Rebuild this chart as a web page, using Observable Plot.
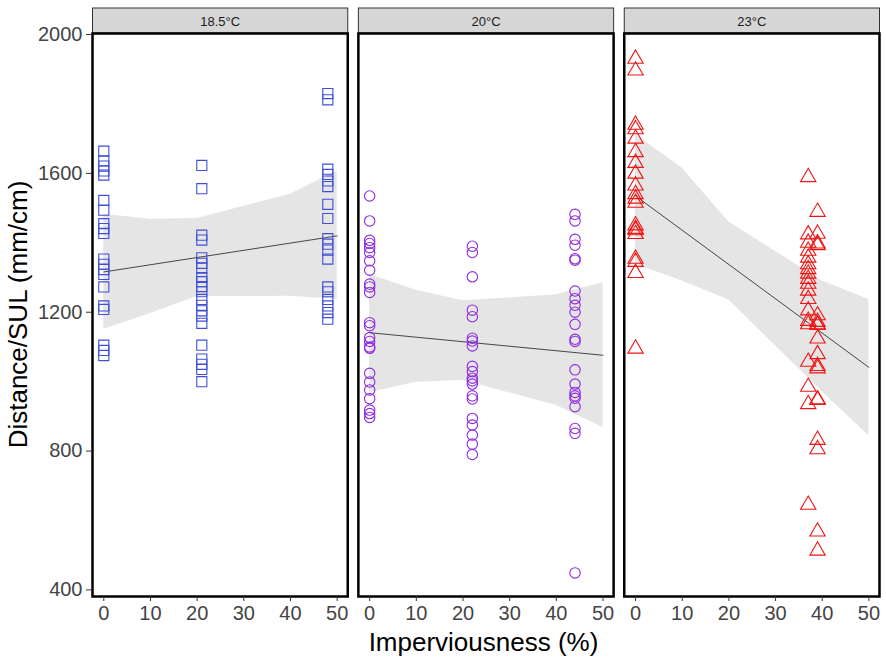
<!DOCTYPE html>
<html><head><meta charset="utf-8">
<script src="https://cdn.jsdelivr.net/npm/d3@7"></script>
<script src="https://cdn.jsdelivr.net/npm/@observablehq/plot@0.6"></script>
<style>
body{margin:0;background:#fff;}
#chart{width:886px;height:662px;}
</style></head><body><div id="chart"></div>
<script>
// ---- categories / styling lists ----
const panels = ["18.5°C", "20°C", "23°C"];
const colors = ["#3F4FD6", "#8E2BE0", "#F01414"];
const symbols = ["square", "circle", "triangle"];
const xTicks = [0, 10, 20, 30, 40, 50];
const yTicks = [400, 800, 1200, 1600, 2000];

// ---- observations read from the picture: imperviousness groups and Distance/SUL ----
// 18.5°C
const p1X = [0, 21, 48];
const p1Y0 = [1664, 1636, 1621, 1607, 1595, 1522, 1494, 1455, 1441, 1427, 1353, 1338, 1323, 1309, 1273, 1218, 1208, 1105, 1090, 1075];
const p1Y21 = [1623, 1556, 1422, 1408, 1357, 1341, 1327, 1300, 1288, 1274, 1259, 1237, 1220, 1204, 1189, 1168, 1105, 1065, 1050, 1035, 1000];
const p1Y48 = [1830, 1812, 1612, 1597, 1578, 1562, 1511, 1470, 1412, 1396, 1379, 1353, 1273, 1259, 1237, 1218, 1199, 1180];
// 20°C
const p2X = [0, 22, 44];
const p2Y0 = [1535, 1463, 1407, 1398, 1386, 1372, 1348, 1321, 1281, 1273, 1257, 1170, 1161, 1127, 1116, 1100, 1096, 1024, 999, 976, 951, 918, 908, 897];
const p2Y22 = [1390, 1372, 1302, 1206, 1187, 1125, 1117, 1103, 1044, 1029, 1010, 1002, 993, 959, 950, 894, 875, 846, 820, 790];
const p2Y44 = [1482, 1463, 1410, 1393, 1354, 1350, 1261, 1239, 1220, 1200, 1165, 1122, 1116, 1034, 993, 969, 959, 952, 928, 865, 851, 449];
// 23°C
const p3X = [0, 37, 39];
const p3Y0 = [1930, 1896, 1740, 1727, 1700, 1661, 1630, 1599, 1565, 1540, 1527, 1515, 1450, 1440, 1436, 1425, 1354, 1345, 1313, 1095];
const p3Y37 = [1589, 1424, 1400, 1377, 1357, 1338, 1324, 1311, 1296, 1282, 1262, 1238, 1205, 1175, 1165, 1057, 985, 935, 645];
const p3Y39 = [1489, 1426, 1398, 1393, 1191, 1172, 1163, 1165, 1124, 1079, 1038, 1045, 949, 947, 832, 805, 568, 513];

// ---- model fit lines and confidence bands ----
const fitX = [0, 50];
const fitY1 = [1316, 1420];
const fitY2 = [1141, 1076];
const fitY3 = [1535, 1041];
const bandX = [0, 10, 20, 40, 50];
const bandHi1 = [1482, 1468, 1470, 1540, 1607];
const bandLo1 = [1151, 1196, 1245, 1246, 1237];
const bandHi2 = [1309, 1263, 1233, 1250, 1285];
const bandLo2 = [969, 998, 1004, 931, 868];
const bandHi3 = [1712, 1615, 1460, 1290, 1237];
const bandLo3 = [1338, 1290, 1235, 971, 844];

// ---- build tidy tables ----
const groups = [
  [panels[0], p1X, [p1Y0, p1Y21, p1Y48]],
  [panels[1], p2X, [p2Y0, p2Y22, p2Y44]],
  [panels[2], p3X, [p3Y0, p3Y37, p3Y39]]
];
const points = [];
for (const [panel, xs, ys] of groups)
  xs.forEach((x, i) => ys[i].forEach(y => points.push({panel, x, y})));

const fits = [fitY1, fitY2, fitY3];
const fitRows = panels.flatMap((panel, i) => fitX.map((x, j) => ({panel, x, y: fits[i][j]})));
const his = [bandHi1, bandHi2, bandHi3], los = [bandLo1, bandLo2, bandLo3];
const bandRows = panels.flatMap((panel, i) => bandX.map((x, j) => ({panel, x, lo: los[i][j], hi: his[i][j]})));

// ---- layout ----
const W = 886, H = 662, mT = 33, mB = 66, mL = 92, mR = 7;
const panelH = H - mT - mB;
const stripH = 25.5;

const plot = Plot.plot({
  width: W, height: H,
  marginTop: mT, marginBottom: mB, marginLeft: mL, marginRight: mR,
  style: {fontFamily: "'Liberation Sans', Arial, sans-serif", fontSize: "20px", color: "#444", background: "white", overflow: "visible"},
  fx: {domain: panels, paddingInner: 0.04, paddingOuter: 0, round: false, axis: null, label: null},
  x: {domain: [-2.42, 52.27], label: null},
  y: {domain: [381, 2003], label: null},
  marks: [
    Plot.frame({fill: "#d6d6d6", stroke: "#333", strokeWidth: 1, insetTop: -stripH, insetBottom: panelH + 0.5}),
    Plot.text(panels, {fx: d => d, text: d => d, frameAnchor: "top", lineAnchor: "middle", dy: -11.5, fontSize: 13, fill: "#1a1a1a"}),
    Plot.areaY(bandRows, {fx: "panel", x: "x", y1: "lo", y2: "hi", fill: "#999", fillOpacity: 0.25}),
    Plot.line(fitRows, {fx: "panel", x: "x", y: "y", stroke: "#333", strokeWidth: 0.9}),
    ...panels.map((p, i) => Plot.dot(points.filter(d => d.panel === p), {
      fx: "panel", x: "x", y: "y", symbol: symbols[i], stroke: colors[i],
      r: i === 1 ? 5.2 : 5.7, strokeWidth: 1.1
    })),
    Plot.frame({stroke: "black", strokeWidth: 2.5}),
    Plot.axisX({ticks: xTicks, tickSize: 5, tickPadding: 4, fontSize: 20, label: null, stroke: "#333", fill: "#444"}),
    Plot.axisY({ticks: yTicks, tickFormat: d3.format("d"), tickSize: 6, tickPadding: 4, fontSize: 20, label: null, stroke: "#333", fill: "#444"})
  ]
});

const svg = d3.select(plot);
svg.append("text")
  .attr("x", (mL + W - mR) / 2 - 2).attr("y", 651)
  .attr("text-anchor", "middle").attr("font-size", 26).attr("fill", "#000")
  .text("Imperviousness (%)");
svg.append("text")
  .attr("transform", `translate(27,${mT + panelH / 2}) rotate(-90)`)
  .attr("text-anchor", "middle").attr("font-size", 26).attr("fill", "#000")
  .text("Distance/SUL (mm/cm)");

document.getElementById("chart").appendChild(plot);
</script>
</body></html>
